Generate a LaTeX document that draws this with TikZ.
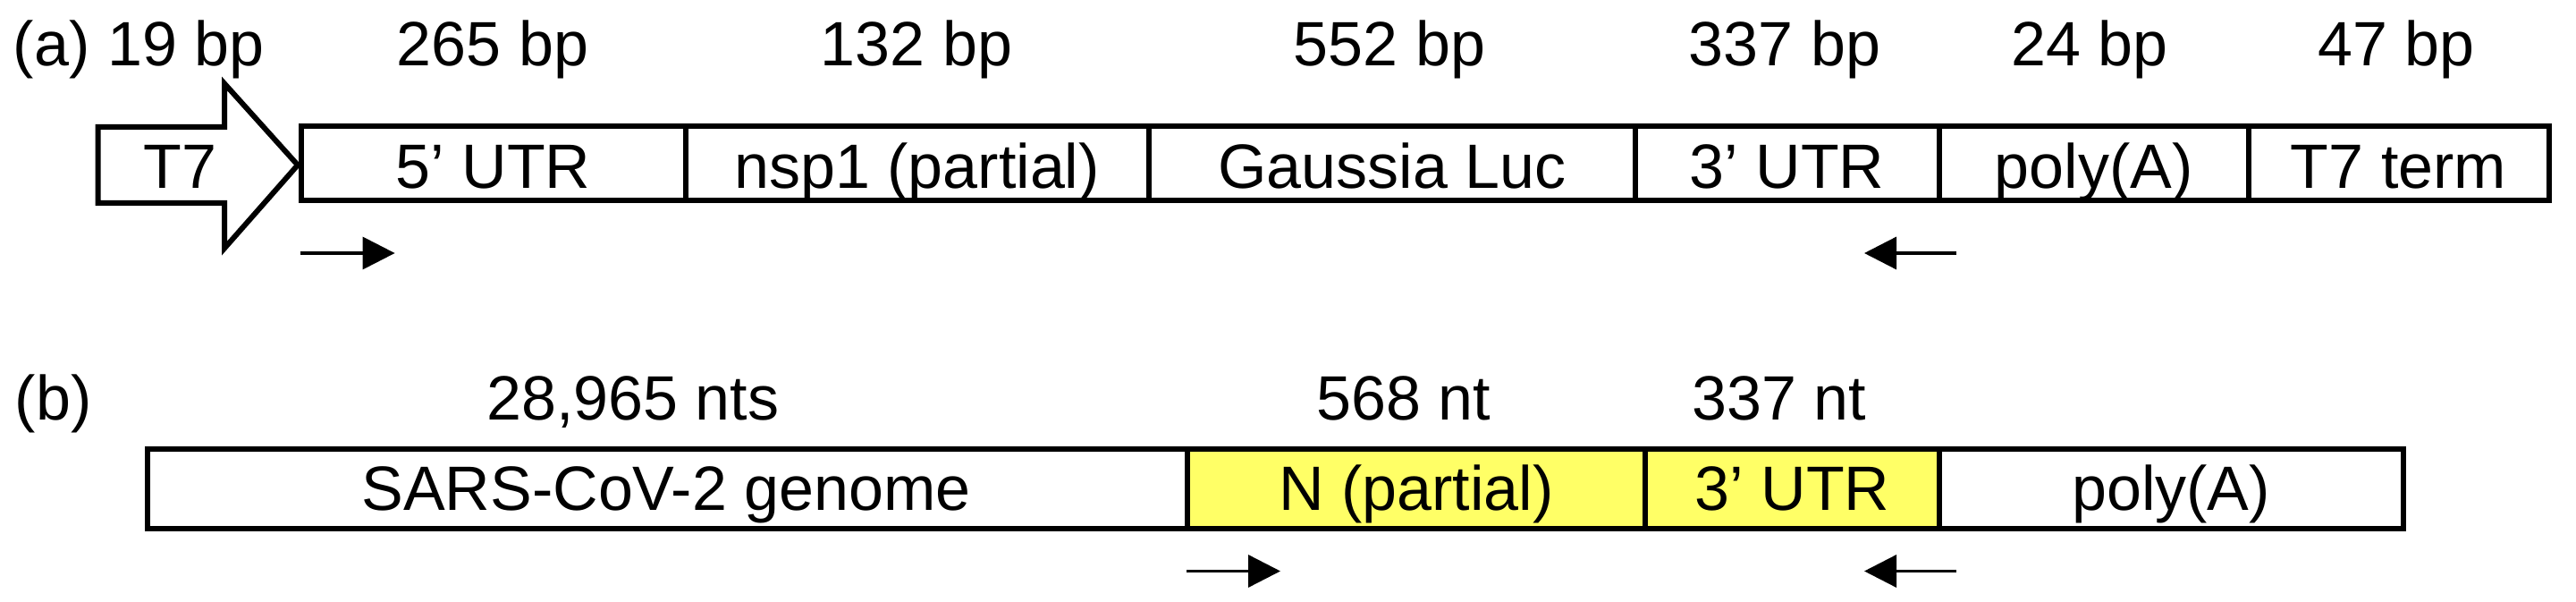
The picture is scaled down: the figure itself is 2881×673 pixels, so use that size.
\documentclass[tikz,border=0pt]{standalone}
\usepackage{fontspec}
\setmainfont{Liberation Sans}
\usetikzlibrary{arrows.meta,fit}
\definecolor{hl}{RGB}{255,255,102}
\begin{document}
\begin{tikzpicture}[x=0.25pt,y=-0.25pt,
  seg/.style={draw=black, line width=1.5pt, inner sep=0pt, outer sep=0pt},
  lbl/.style={anchor=base, inner sep=0pt, font=\fontsize{17.5pt}{21pt}\selectfont},
  primer/.style={line width=0.85pt, -{Triangle[length=9pt,width=9pt]}}]
\useasboundingbox (0,0) rectangle (2881,673);
% ---------- (a) ----------
\node[lbl, anchor=base west] (la) at (14,73.5) {(a)};
\draw[line width=1.5pt, miter limit=10] (109.7,142) -- (251,142) -- (251,93.4) -- (333,184.5)
  -- (251,277.6) -- (251,227) -- (109.7,227) -- cycle;
\node[lbl] (tT7) at (201.5,210.7) {T7};
\node[seg, fit={(336.7,141) (766.5,224)}] (utr5) {};
\node[seg, fit={(766.5,141) (1285,224)}] (nsp1) {};
\node[seg, fit={(1285,141) (1828.5,224)}] (gluc) {};
\node[seg, fit={(1828.5,141) (2169,224)}] (utr3) {};
\node[seg, fit={(2169,141) (2514.5,224)}] (polyA) {};
\node[seg, fit={(2514.5,141) (2850.6,224)}] (t7t) {};
\node[lbl] (tutr5) at (551.6,210.7) {5’ UTR};
\node[lbl] (tnsp1) at (1025.7,210.7) {nsp1 (partial)};
\node[lbl] (tgluc) at (1556.7,210.7) {Gaussia Luc};
\node[lbl] (tutr3) at (1998.7,210.7) {3’ UTR};
\node[lbl] (tpolyA) at (2341.7,210.7) {poly(A)};
\node[lbl] (tt7t) at (2682.5,210.7) {T7 term};
\node[lbl] (s1) at (208,73.5) {19 bp};
\node[lbl] (s2) at (551,73.5) {265 bp};
\node[lbl] (s3) at (1025,73.5) {132 bp};
\node[lbl] (s4) at (1554,73.5) {552 bp};
\node[lbl] (s5) at (1996,73.5) {337 bp};
\node[lbl] (s6) at (2337,73.5) {24 bp};
\node[lbl] (s7) at (2680,73.5) {47 bp};
\coordinate (fa1) at (335.6,283);
\coordinate (fa2) at (441.6,283);
\coordinate (ra1) at (2188,283);
\coordinate (ra2) at (2085,283);
\draw[primer] (fa1) -- (fa2);
\draw[primer] (ra1) -- (ra2);
% ---------- (b) ----------
\node[lbl, anchor=base west] (lb) at (16,469.5) {(b)};
\node[seg, fit={(164.5,502) (1327.7,591)}] (genome) {};
\node[seg, fill=hl, fit={(1327.7,502) (1840,591)}] (Nseg) {};
\node[seg, fill=hl, fit={(1840,502) (2169,591)}] (utr3b) {};
\node[seg, fit={(2169,502) (2687.5,591)}] (polyAb) {};
\node[lbl] (tgenome) at (745,570) {SARS-CoV-2 genome};
\node[lbl] (tN) at (1584,570) {N (partial)};
\node[lbl] (tutr3b) at (2004.5,570) {3’ UTR};
\node[lbl] (tpolyAb) at (2428,570) {poly(A)};
\node[lbl] (sb1) at (708,469.5) {28,965 nts};
\node[lbl] (sb2) at (1570,469.5) {568 nt};
\node[lbl] (sb3) at (1990,469.5) {337 nt};
\coordinate (fb1) at (1327,638.5);
\coordinate (fb2) at (1432,638.5);
\coordinate (rb1) at (2188,638.5);
\coordinate (rb2) at (2085,638.5);
\draw[primer] (fb1) -- (fb2);
\draw[primer] (rb1) -- (rb2);
\end{tikzpicture}
\end{document}
